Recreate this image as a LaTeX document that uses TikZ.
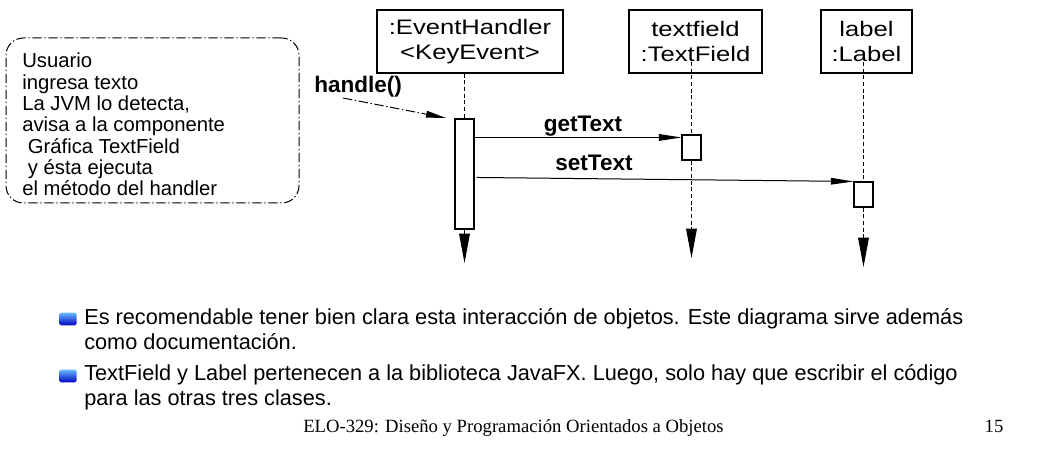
\documentclass[tikz,border=0pt]{standalone}
\usepackage{fontspec}
\setmainfont{Liberation Sans}
\newfontfamily\headfont{Liberation Sans}[FakeStretch=1.22]
\newfontfamily\footfont{Liberation Serif}
\usepackage{tikz}
\usetikzlibrary{arrows.meta,calc}

\begin{document}
\begin{tikzpicture}[x=0.75pt,y=0.75pt,yscale=-1,xscale=1,
  objbox/.style={draw,line width=0.9pt,inner sep=0pt,minimum height=47.25pt,align=center,font=\headfont\fontsize{15.75}{18.75}\selectfont},
  actbox/.style={draw,line width=0.8pt,fill=white,inner sep=0pt,minimum width=14.25pt},
  lifeline/.style={dash pattern=on 3pt off 2pt,line width=0.75pt},
  endtip/.style={-{Triangle[length=22pt,width=8pt]}},
  msg/.style={-{Triangle[length=17pt,width=5pt]},line width=0.75pt},
  msglabel/.style={font=\bfseries\fontsize{16.9}{20}\selectfont,anchor=base,inner sep=0pt},
  dashdot/.style={dash pattern=on 7pt off 2pt on 1pt off 2pt,line width=0.75pt},
  bulletmark/.style={inner sep=0pt,minimum width=13pt,minimum height=9.5pt,rounded corners=1.2pt,top color=blue!45!cyan!60!white,bottom color=blue!75!black},
  itemtext/.style={anchor=base west,align=left,inner sep=0pt,font=\fontsize{16.3}{18.75}\selectfont}
]
%set diagram left start at 0, and has height of 456
\path[use as bounding box] (0,0) rectangle (1054,456);

%Shape: Note box
\node[draw,dashdot,rounded corners=13pt,minimum width=219.75pt,minimum height=123.75pt] (note) at (152.5,120.5) {};
% Text Node (base is the last line)
\node[anchor=base west,align=left,inner sep=0pt,font=\fontsize{15.2}{16.05}\selectfont] (notetext) at (22,196) {Usuario\\ingresa texto\\La JVM lo detecta,\\avisa a la componente\\\ Gráfica TextField\\\ y ésta ejecuta\\el método del handler};

%Shape: Object boxes
\node[objbox,minimum width=139.5pt] (handler) at (470,41.5) {:EventHandler\\<KeyEvent>};
\node[objbox,minimum width=99.75pt] (textfield) at (695.5,41.5) {textfield\\:TextField};
\node[objbox,minimum width=68.25pt] (label) at (866.5,41.5) {label\\:Label};

%Shape: Activation boxes
\node[actbox,minimum height=82.5pt] (act1) at (464.5,174) {};
\node[actbox,minimum height=18.75pt] (act2) at (691.5,147.5) {};
\node[actbox,minimum height=18.75pt] (act3) at (863.5,194.5) {};

\coordinate (tfstart) at (691.5,62);
\coordinate (lbstart) at (863.5,62);
\coordinate (handlerend) at (464.5,263);
\coordinate (tfend) at (691.5,258);
\coordinate (lbend) at (863.5,267);
\coordinate (handlefrom) at (343,98);
\coordinate (handleto) at (446,118);

%Straight Lines: lifelines
\draw[lifeline] (act1 |- handler.south) -- (act1.north);
\draw[line width=0.75pt,endtip] (act1.south) -- (handlerend);
\draw[lifeline] (tfstart) -- (act2.north);
\draw[lifeline,endtip] (act2.south) -- (tfend);
\draw[lifeline] (lbstart) -- (act3.north);
\draw[lifeline,endtip] (act3.south) -- (lbend);

%Straight Lines: messages
\draw[dashdot,-{Triangle[length=15pt,width=5pt]}] (handlefrom) -- (handleto);
\draw[msg] ($(act1.north east)+(0,19)$) -- ($(act2.north west)+(0,3)$);
\draw[msg] ($(act1.north east)+(2,59)$) -- (act3.north west);

% Text Node
\node[msglabel,anchor=base west] (handlelbl) at (314,92.7) {handle()};
% Text Node
\node[msglabel] (getlbl) at (583,131.7) {getText};
% Text Node
\node[msglabel] (setlbl) at (594,170.7) {setText};

%Shape: Bullets
\node[bulletmark] (mark1) at (68,319) {};
\node[bulletmark] (mark2) at (68,376) {};
% Text Node
\node[itemtext] (item1) at (84,349.3) {Es recomendable tener bien clara esta interacción de objetos. Este diagrama sirve además\\como documentación.};
% Text Node
\node[itemtext] (item2) at (84,405) {TextField y Label pertenecen a la biblioteca JavaFX. Luego, solo hay que escribir el código\\para las otras tres clases.};

% Text Node
\node[anchor=base,inner sep=0pt,font=\footfont\fontsize{14}{16}\selectfont] (footer) at (513.5,432) {ELO-329: Diseño y Programación Orientados a Objetos};
% Text Node
\node[anchor=base,inner sep=0pt,font=\footfont\fontsize{14}{16}\selectfont] (pagenum) at (994,432) {15};
\end{tikzpicture}
\end{document}
